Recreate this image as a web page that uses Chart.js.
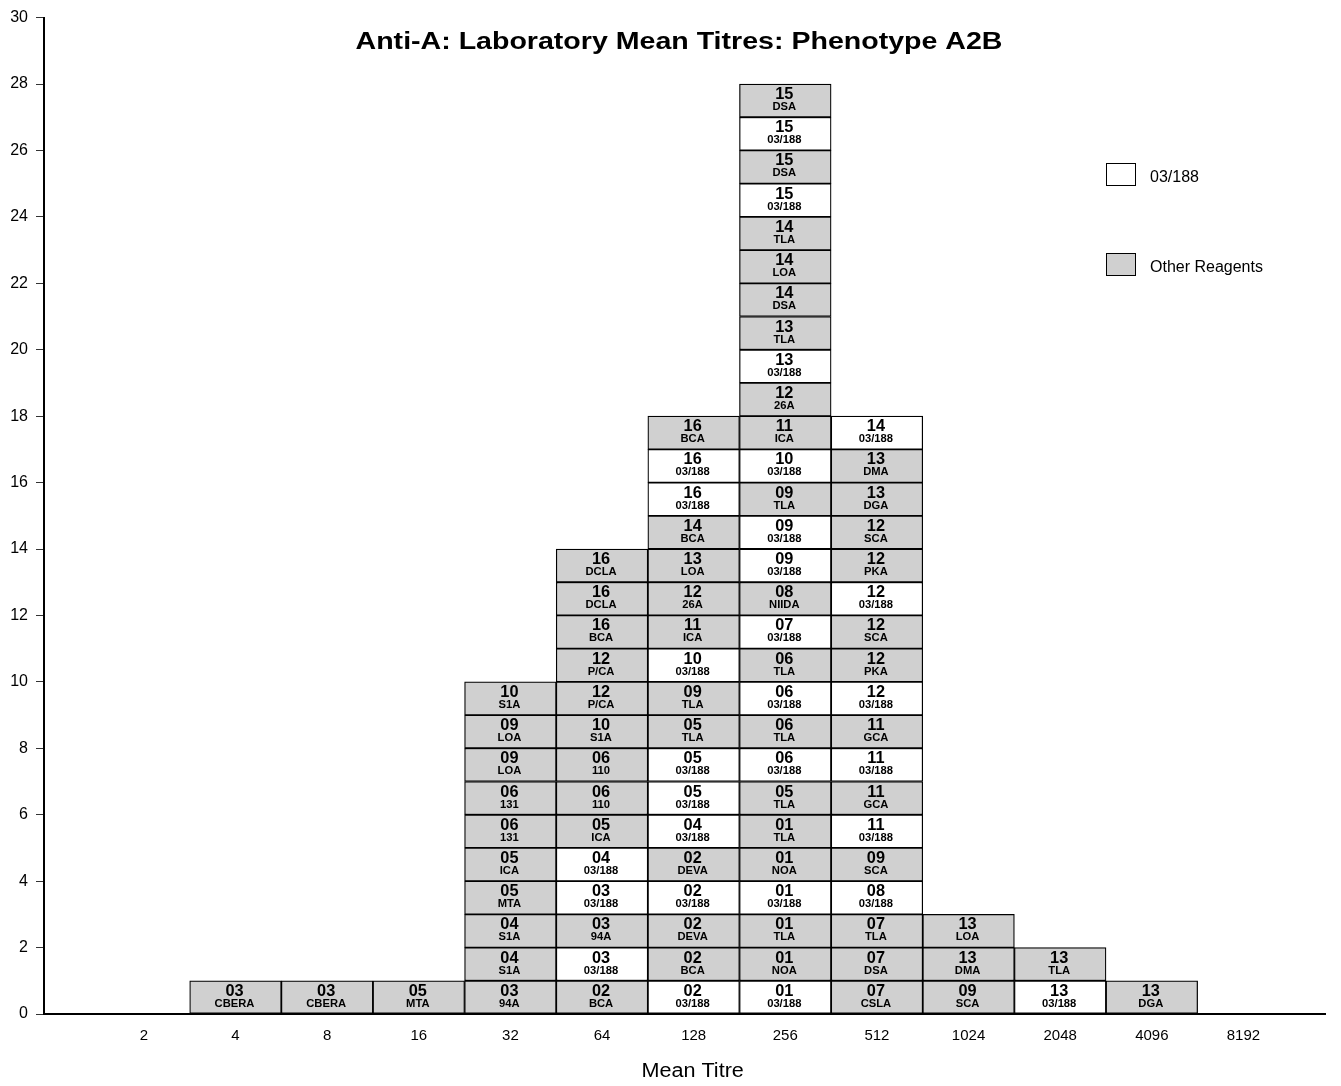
<!DOCTYPE html>
<html>
<head>
<meta charset="utf-8">
<script src="https://cdn.jsdelivr.net/npm/chart.js@4"></script>
<style>
  body { margin: 0; background: #fff; }
  #wrap { width: 1341px; height: 1086px; }
</style>
</head>
<body>
<div id="wrap"><canvas id="chart" width="1341" height="1086"></canvas></div>
<script>
// -------------------------------------------------------------
// Data: one list per titre column, bottom box first.
// Each entry is "<lab no> <reagent>".
// -------------------------------------------------------------
const titres = ['2', '4', '8', '16', '32', '64', '128', '256', '512', '1024', '2048', '4096', '8192']

const col2 = []
const col4 = ['03 CBERA']
const col8 = ['03 CBERA']
const col16 = ['05 MTA']
const col32 = ['03 94A', '04 S1A', '04 S1A', '05 MTA', '05 ICA', '06 131', '06 131', '09 LOA', '09 LOA', '10 S1A']
const col64 = ['02 BCA', '03 03/188', '03 94A', '03 03/188', '04 03/188', '05 ICA', '06 110', '06 110',
  '10 S1A', '12 P/CA', '12 P/CA', '16 BCA', '16 DCLA', '16 DCLA']
const col128 = ['02 03/188', '02 BCA', '02 DEVA', '02 03/188', '02 DEVA', '04 03/188', '05 03/188', '05 03/188',
  '05 TLA', '09 TLA', '10 03/188', '11 ICA', '12 26A', '13 LOA', '14 BCA', '16 03/188', '16 03/188', '16 BCA']
const col256 = ['01 03/188', '01 NOA', '01 TLA', '01 03/188', '01 NOA', '01 TLA', '05 TLA', '06 03/188',
  '06 TLA', '06 03/188', '06 TLA', '07 03/188', '08 NIIDA', '09 03/188', '09 03/188', '09 TLA', '10 03/188',
  '11 ICA', '12 26A', '13 03/188', '13 TLA', '14 DSA', '14 LOA', '14 TLA', '15 03/188', '15 DSA', '15 03/188', '15 DSA']
const col512 = ['07 CSLA', '07 DSA', '07 TLA', '08 03/188', '09 SCA', '11 03/188', '11 GCA', '11 03/188',
  '11 GCA', '12 03/188', '12 PKA', '12 SCA', '12 03/188', '12 PKA', '12 SCA', '13 DGA', '13 DMA', '14 03/188']
const col1024 = ['09 SCA', '13 DMA', '13 LOA']
const col2048 = ['13 03/188', '13 TLA']
const col4096 = ['13 DGA']
const col8192 = []

const columns = [col2, col4, col8, col16, col32, col64, col128, col256, col512, col1024, col2048, col4096, col8192]

const REFERENCE = '03/188'
const WHITE = '#ffffff'
const GREY = '#d0d0d0'
const FONT = '"Liberation Sans", Arial, sans-serif'

// one dataset per stack level, so every box is its own bar
const levels = Math.max(...columns.map(c => c.length))
const datasets = []
for (let k = 0; k < levels; k++) {
  datasets.push({
    data: columns.map((c, i) => {
      if (!c[k]) return { x: i, y: null }
      const [lab, reagent] = c[k].split(' ')
      return { x: i, y: 1, lab, reagent }
    }),
    backgroundColor: ctx => (ctx.raw && ctx.raw.reagent === REFERENCE ? WHITE : GREY),
    borderColor: '#000',
    borderWidth: 1.25,
    borderSkipped: false,
    barPercentage: 1,
    categoryPercentage: 1
  })
}

// text drawn with a slight horizontal stretch, like the original
function stretchText(ctx, text, x, y, font, sx) {
  ctx.save()
  ctx.font = font
  ctx.translate(x, y)
  ctx.scale(sx, 1)
  ctx.fillText(text, 0, 0)
  ctx.restore()
}

// -------------------------------------------------------------
// Box labels, title, legend, axis title
// -------------------------------------------------------------
const decorations = {
  id: 'decorations',
  afterDatasetsDraw(chart) {
    const ctx = chart.ctx
    ctx.save()
    ctx.fillStyle = '#000'
    ctx.textAlign = 'center'
    ctx.textBaseline = 'alphabetic'

    chart.data.datasets.forEach((ds, d) => {
      chart.getDatasetMeta(d).data.forEach((bar, i) => {
        const p = ds.data[i]
        if (p.y == null) return
        const top = Math.min(bar.y, bar.base)
        stretchText(ctx, p.lab, bar.x - 1, top + 15, `bold 16px ${FONT}`, 1.02)
        stretchText(ctx, p.reagent, bar.x - 1, top + 26, `bold 11px ${FONT}`, 1.02)
      })
    })

    // title sits inside the plot area
    stretchText(ctx, 'Anti-A: Laboratory Mean Titres: Phenotype A2B', 679, 49, `bold 24px ${FONT}`, 1.19)

    // x axis title, centred on the titre range
    const xs = chart.scales.x
    stretchText(ctx, 'Mean Titre', xs.getPixelForValue(6) - 1, 1077, `20px ${FONT}`, 1.08)

    // legend
    const legend = [
      { label: REFERENCE, color: WHITE, y: 163 },
      { label: 'Other Reagents', color: GREY, y: 253 }
    ]
    ctx.textAlign = 'left'
    ctx.font = `16px ${FONT}`
    legend.forEach(item => {
      ctx.fillStyle = item.color
      ctx.fillRect(1106, item.y, 30, 23)
      ctx.strokeStyle = '#000'
      ctx.lineWidth = 1
      ctx.strokeRect(1106.5, item.y + 0.5, 29, 22)
      ctx.fillStyle = '#000'
      ctx.fillText(item.label, 1150, item.y + 19)
    })
    ctx.restore()
  }
}

new Chart(document.getElementById('chart'), {
  type: 'bar',
  data: { datasets },
  plugins: [decorations],
  options: {
    responsive: false,
    animation: false,
    events: [],
    layout: { padding: { top: 14, right: 16, left: 0, bottom: 0 } },
    plugins: { legend: { display: false }, tooltip: { enabled: false }, title: { display: false } },
    scales: {
      x: {
        type: 'linear',
        min: -1.09,
        max: 12.89,
        offset: false,
        stacked: true,
        grid: { display: false, drawTicks: false, offset: false },
        border: { display: true, color: '#000', width: 2 },
        afterBuildTicks: scale => { scale.ticks = titres.map((_, i) => ({ value: i })) },
        afterFit: scale => { scale.height = 72 },
        ticks: {
          autoSkip: false,
          maxRotation: 0,
          padding: 13,
          color: '#000',
          font: { family: FONT, size: 15 },
          callback: v => titres[v]
        }
      },
      y: {
        min: 0,
        max: 30,
        stacked: true,
        grid: { display: true, drawOnChartArea: false, drawTicks: true, tickLength: 8, color: '#333', lineWidth: 1 },
        border: { display: true, color: '#000', width: 2 },
        afterFit: scale => { scale.width = 44 },
        ticks: {
          stepSize: 2,
          padding: 8,
          color: '#000',
          font: { family: FONT, size: 16 }
        }
      }
    }
  }
})
</script>
</body>
</html>
